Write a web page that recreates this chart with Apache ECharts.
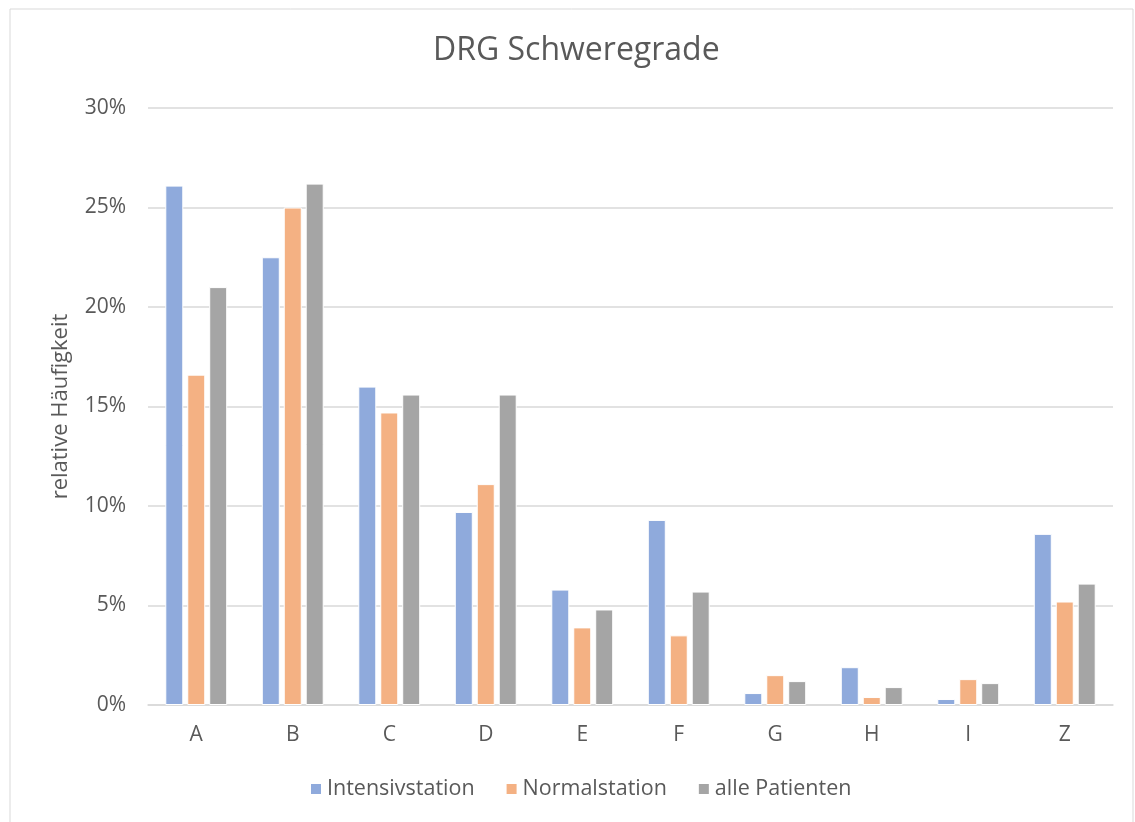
<!DOCTYPE html>
<html>
<head>
<meta charset="utf-8">
<script src="https://cdn.jsdelivr.net/npm/echarts@6/dist/echarts.min.js"></script>
<style>
  html, body { margin: 0; padding: 0; background: #fff; }
  #chart { width: 1135px; height: 822px; }
</style>
</head>
<body>
<div id="chart"></div>
<script>
// Kategorien (DRG Schweregrade)
const categories = ['A', 'B', 'C', 'D', 'E', 'F', 'G', 'H', 'I', 'Z'];
// relative Häufigkeit in %
const intensivstation = [26.1, 22.5, 16.0, 9.7, 5.8, 9.3, 0.6, 1.9, 0.3, 8.6];
const normalstation = [16.6, 25.0, 14.7, 11.1, 3.9, 3.5, 1.5, 0.4, 1.3, 5.2];
const allePatienten = [21.0, 26.2, 15.6, 15.6, 4.8, 5.7, 1.2, 0.9, 1.1, 6.1];
const seriesNames = ['Intensivstation', 'Normalstation', 'alle Patienten'];

const chart = echarts.init(document.getElementById('chart'));
const font = '"Open Sans", "Noto Sans", sans-serif';
const textColor = '#595959';

const barStyle = (color) => ({
  color: color,
  borderColor: '#ffffff',
  borderWidth: 1
});

const option = {
  animation: false,
  color: ['#8FAADC', '#F4B183', '#A5A5A5'],
  textStyle: { fontFamily: font },
  title: {
    text: 'DRG Schweregrade',
    left: 428,
    top: 30,
    textStyle: { fontFamily: font, fontSize: 32, fontWeight: 'normal', color: textColor }
  },
  graphic: [{
    type: 'rect',
    shape: { x: 10, y: 9, width: 1123, height: 830 },
    style: { fill: null, stroke: '#D9D9D9', lineWidth: 1 },
    silent: true
  }],
  legend: {
    data: seriesNames,
    bottom: 17,
    left: 304,
    itemWidth: 12,
    itemHeight: 12,
    itemGap: 30,
    icon: 'rect',
    textStyle: { fontFamily: font, fontSize: 21.5, color: textColor }
  },
  grid: { left: 148, right: 22, top: 108, bottom: 117 },
  xAxis: {
    type: 'category',
    data: categories,
    axisLine: { lineStyle: { color: '#D9D9D9', width: 1.5 } },
    axisTick: { show: false },
    axisLabel: { fontFamily: font, fontSize: 21, color: textColor, margin: 20 }
  },
  yAxis: {
    type: 'value',
    min: 0,
    max: 30,
    interval: 5,
    name: 'relative Häufigkeit',
    nameLocation: 'middle',
    nameGap: 76,
    nameRotate: 90,
    nameTextStyle: { fontFamily: font, fontSize: 22, color: textColor },
    axisLine: { show: false },
    axisTick: { show: false },
    splitLine: { lineStyle: { color: '#D9D9D9', width: 1.5 } },
    axisLabel: { fontFamily: font, fontSize: 21, color: textColor, margin: 22, formatter: '{value}%' }
  },
  series: [
    { name: seriesNames[0], type: 'bar', data: intensivstation, barWidth: 18, barGap: '22%', itemStyle: barStyle('#8FAADC') },
    { name: seriesNames[1], type: 'bar', data: normalstation, barWidth: 18, barGap: '22%', itemStyle: barStyle('#F4B183') },
    { name: seriesNames[2], type: 'bar', data: allePatienten, barWidth: 18, barGap: '22%', itemStyle: barStyle('#A5A5A5') }
  ]
};
chart.setOption(option);
</script>
</body>
</html>
